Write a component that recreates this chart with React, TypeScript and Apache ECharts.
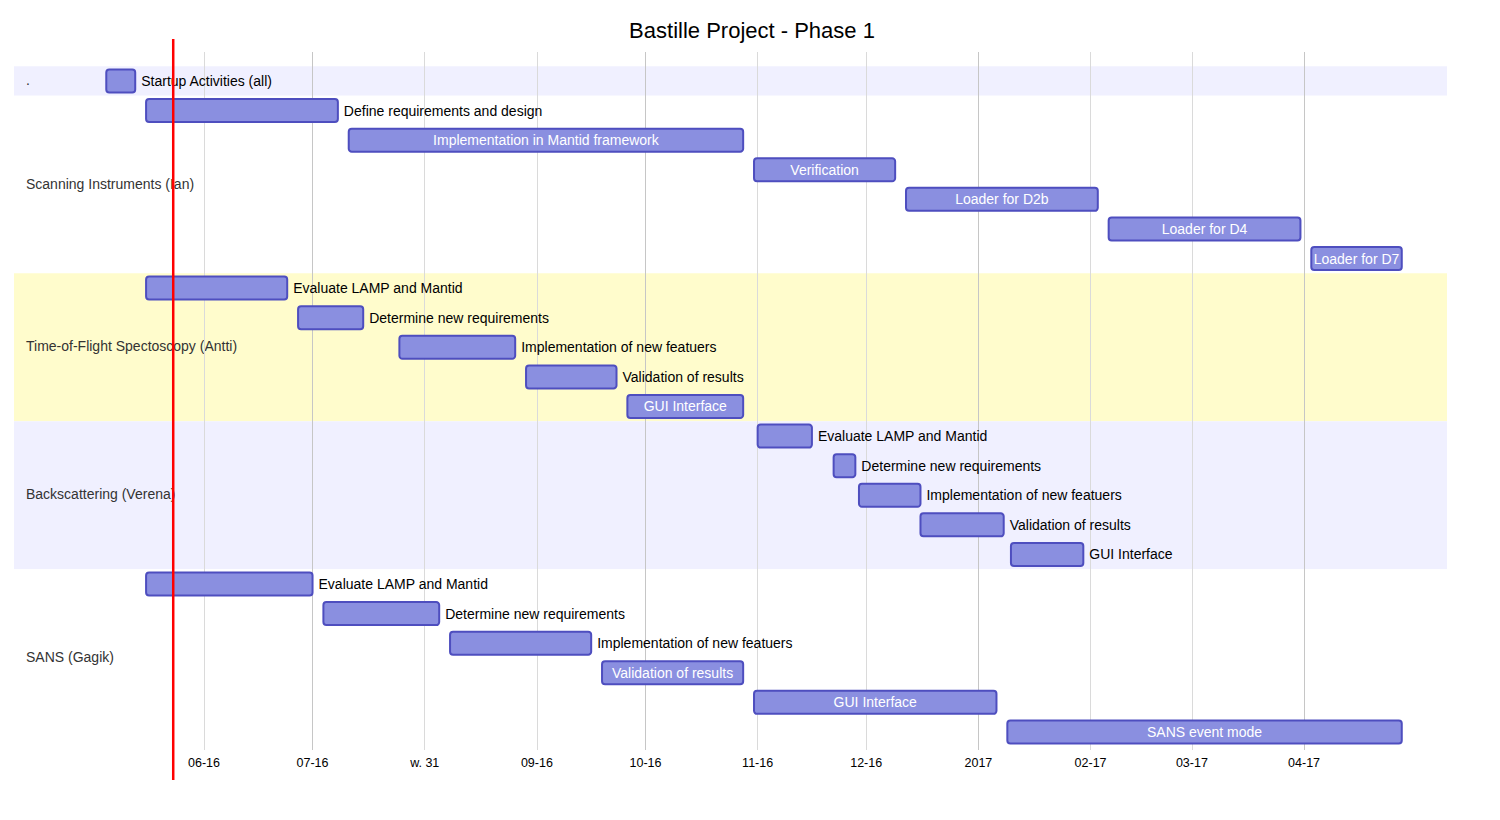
import React, { useEffect, useRef } from "react";
import * as echarts from "echarts";

const titleText = "Bastille Project - Phase 1";

const groupNames = [
  ".",
  "Scanning Instruments (Ian)",
  "Time-of-Flight Spectoscopy (Antti)",
  "Backscattering (Verena)",
  "SANS (Gagik)",
];
const groupColors = ["#f0f0ff", "#ffffff", "#fffccc", "#f0f0ff", "#ffffff"];

const taskGroup = [0, 1, 1, 1, 1, 1, 1, 2, 2, 2, 2, 2, 3, 3, 3, 3, 3, 4, 4, 4, 4, 4, 4];
const taskNames = [
  "Startup Activities (all)",
  "Define requirements and design",
  "Implementation in Mantid framework",
  "Verification",
  "Loader for D2b",
  "Loader for D4",
  "Loader for D7",
  "Evaluate LAMP and Mantid",
  "Determine new requirements",
  "Implementation of new featuers",
  "Validation of results",
  "GUI Interface",
  "Evaluate LAMP and Mantid",
  "Determine new requirements",
  "Implementation of new featuers",
  "Validation of results",
  "GUI Interface",
  "Evaluate LAMP and Mantid",
  "Determine new requirements",
  "Implementation of new featuers",
  "Validation of results",
  "GUI Interface",
  "SANS event mode",
];
const taskStart = [
  "2016-05-05", "2016-05-16", "2016-07-11", "2016-10-31", "2016-12-12", "2017-02-06", "2017-04-03",
  "2016-05-16", "2016-06-27", "2016-07-25", "2016-08-29", "2016-09-26",
  "2016-11-01", "2016-11-22", "2016-11-29", "2016-12-16", "2017-01-10",
  "2016-05-16", "2016-07-04", "2016-08-08", "2016-09-19", "2016-10-31", "2017-01-09",
];
const taskEnd = [
  "2016-05-13", "2016-07-08", "2016-10-28", "2016-12-09", "2017-02-03", "2017-03-31", "2017-04-28",
  "2016-06-24", "2016-07-15", "2016-08-26", "2016-09-23", "2016-10-28",
  "2016-11-16", "2016-11-28", "2016-12-16", "2017-01-08", "2017-01-30",
  "2016-07-01", "2016-08-05", "2016-09-16", "2016-10-28", "2017-01-06", "2017-04-28",
];

const todayDate = "2016-05-23T12:00";
const axisMin = "2016-04-09T12:00";
const axisMax = "2017-05-10T12:00";

const tickDates = [
  "2016-06-01", "2016-07-01", "2016-08-01", "2016-09-01", "2016-10-01", "2016-11-01",
  "2016-12-01", "2017-01-01", "2017-02-01", "2017-03-01", "2017-04-01",
];
const tickLabels = ["06-16", "07-16", "w. 31", "09-16", "10-16", "11-16", "12-16", "2017", "02-17", "03-17", "04-17"];

const FONT = "'Liberation Sans', Arial, Helvetica, sans-serif";

function toTime(s: string): number {
  const [d, t] = s.split("T");
  const [y, m, dd] = d.split("-").map(Number);
  let h = 0, mi = 0;
  if (t) {
    const parts = t.split(":").map(Number);
    h = parts[0];
    mi = parts[1] || 0;
  }
  return Date.UTC(y, m - 1, dd, h, mi);
}

export default function App() {
  const ref = useRef<HTMLDivElement>(null);

  useEffect(() => {
    document.body.style.margin = "0";
    if (!ref.current) return;
    const chart = echarts.init(ref.current, null, { renderer: "svg" });

    const canvas = document.createElement("canvas");
    const ctx = canvas.getContext("2d")!;
    ctx.font = "14px " + FONT;
    const measure = (s: string) => ctx.measureText(s).width;

    const tickTimes = tickDates.map(toTime);
    const minT = toTime(axisMin);

    const bandData: number[][] = groupNames.map((_, g) => {
      const rows = taskGroup.map((gg, i) => (gg === g ? i : -1)).filter((i) => i >= 0);
      return [minT, rows[0], rows[rows.length - 1], g];
    });

    const barData = taskNames.map((n, i) => [toTime(taskStart[i]), toTime(taskEnd[i]), i]);

    const option: any = {
      animation: false,
      title: {
        text: titleText,
        left: 752,
        textAlign: "center",
        top: 19,
        padding: 0,
        textStyle: { fontFamily: FONT, fontSize: 22, fontWeight: "normal", color: "#000" },
      },
      grid: { left: 14, right: 53, top: 52, bottom: 70, containLabel: false },
      xAxis: {
        type: "value",
        min: minT,
        max: toTime(axisMax),
        axisLine: { show: false },
        axisTick: { show: false, customValues: tickTimes },
        axisLabel: {
          customValues: tickTimes,
          margin: 6,
          fontFamily: FONT,
          fontSize: 12.5,
          color: "#000",
          formatter: (v: number) => {
            const idx = tickTimes.indexOf(v);
            return idx >= 0 ? tickLabels[idx] : "";
          },
        },
        splitLine: {
          show: true,
          lineStyle: { color: ["#dadada", "#c6c6c6", "#dadada"], width: 1 },
        },
      },
      yAxis: {
        type: "value",
        inverse: true,
        min: -0.98,
        max: 22.61,
        show: false,
        splitLine: { show: false },
      },
      series: [
        {
          type: "custom",
          z: -1,
          silent: true,
          data: bandData,
          encode: { x: 0, y: [1, 2] },
          renderItem: (params: any, api: any) => {
            const cs = params.coordSys;
            const x0 = api.value(0);
            const r0 = api.value(1);
            const r1 = api.value(2);
            const g = api.value(3);
            const y0 = api.coord([x0, r0 - 0.5])[1];
            const y1 = api.coord([x0, r1 + 0.5])[1];
            return {
              type: "group",
              children: [
                {
                  type: "rect",
                  shape: { x: cs.x, y: y0, width: cs.width, height: y1 - y0 },
                  style: { fill: groupColors[g] },
                },
                {
                  type: "text",
                  style: {
                    x: cs.x + 12,
                    y: (y0 + y1) / 2 - 1,
                    text: groupNames[g],
                    fill: "#333",
                    font: "14px " + FONT,
                    textAlign: "left",
                    textVerticalAlign: "middle",
                  },
                },
              ],
            };
          },
        },
        {
          type: "custom",
          z: 2,
          data: barData,
          encode: { x: [0, 1], y: 2 },
          renderItem: (params: any, api: any) => {
            const s = api.coord([api.value(0), api.value(2)]);
            const e = api.coord([api.value(1), api.value(2)]);
            const name = taskNames[params.dataIndex];
            const h = 23;
            const w = e[0] - s[0];
            const tw = measure(name);
            const inside = tw <= w - 1;
            return {
              type: "group",
              children: [
                {
                  type: "rect",
                  shape: { x: s[0], y: s[1] - h / 2, width: w, height: h, r: 3 },
                  style: { fill: "#8a8fe0", stroke: "#4e4ebf", lineWidth: 2 },
                },
                {
                  type: "text",
                  style: {
                    x: inside ? s[0] + w / 2 : e[0] + 6,
                    y: s[1],
                    text: name,
                    fill: inside ? "#ffffff" : "#000000",
                    font: "14px " + FONT,
                    textAlign: inside ? "center" : "left",
                    textVerticalAlign: "middle",
                  },
                },
              ],
            };
          },
        },
        {
          type: "custom",
          z: 3,
          silent: true,
          data: [[toTime(todayDate), 0]],
          encode: { x: 0, y: 1 },
          renderItem: (params: any, api: any) => {
            const cs = params.coordSys;
            const x = api.coord([api.value(0), 0])[0];
            return {
              type: "line",
              shape: { x1: x, y1: cs.y - 13, x2: x, y2: cs.y + cs.height + 30 },
              style: { stroke: "#ff0000", lineWidth: 2.5 },
            };
          },
        },
      ],
    };

    chart.setOption(option);
    return () => chart.dispose();
  }, []);

  return <div ref={ref} style={{ width: 1500, height: 820 }} />;
}
